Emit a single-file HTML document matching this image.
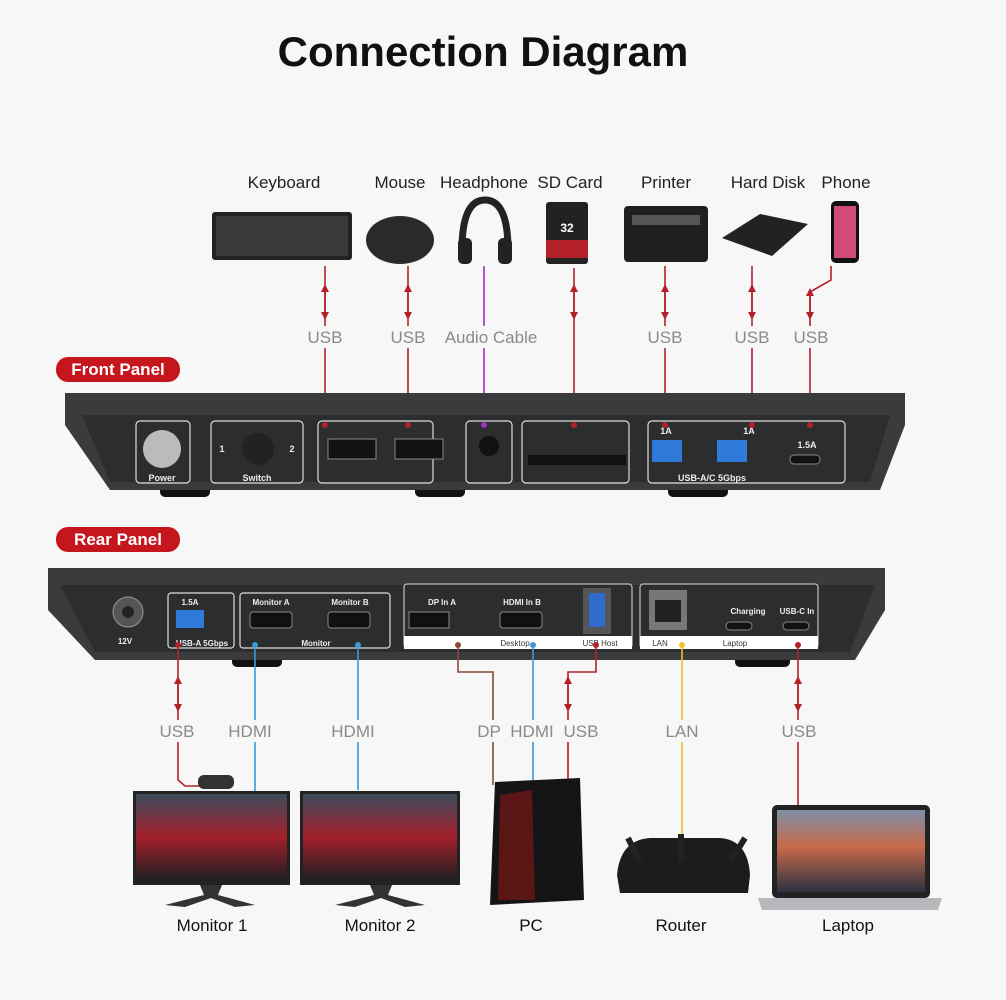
<!DOCTYPE html>
<html><head><meta charset="utf-8"><style>
html,body{margin:0;padding:0;background:#f7f7f7;}
svg{display:block}
text{font-family:"Liberation Sans",sans-serif}
</style></head><body>
<svg width="1006" height="1000" viewBox="0 0 1006 1000" xmlns="http://www.w3.org/2000/svg">
<defs>
<linearGradient id="scr" x1="0" y1="0" x2="0" y2="1"><stop offset="0" stop-color="#3b4a5a"/><stop offset="0.5" stop-color="#a3202a"/><stop offset="1" stop-color="#1e1e22"/></linearGradient>
<linearGradient id="mac" x1="0" y1="0" x2="0" y2="1"><stop offset="0" stop-color="#7f8fa8"/><stop offset="0.45" stop-color="#c86a4a"/><stop offset="1" stop-color="#2a3140"/></linearGradient>
<marker id="ar" viewBox="0 0 10 10" refX="5" refY="5" markerWidth="5" markerHeight="5" orient="auto-start-reverse"><path d="M0,0L10,5L0,10z" fill="#b3202a"/></marker>
</defs>
<rect width="1006" height="1000" fill="#f7f7f7"/>
<text x="483" y="66" font-size="42" font-weight="bold" text-anchor="middle" fill="#111">Connection Diagram</text>

<g font-size="17" fill="#222" text-anchor="middle">
<text x="284" y="188">Keyboard</text><text x="400" y="188">Mouse</text><text x="484" y="188">Headphone</text><text x="570" y="188">SD Card</text><text x="666" y="188">Printer</text><text x="768" y="188">Hard Disk</text><text x="846" y="188">Phone</text>
</g>
<rect x="212" y="212" width="140" height="48" rx="3" fill="#222"/><rect x="216" y="216" width="132" height="40" fill="#3a3a3a"/>
<ellipse cx="400" cy="240" rx="34" ry="24" fill="#2a2a2a"/>
<path d="M462,250 Q462,200 485,200 Q508,200 508,250" fill="none" stroke="#222" stroke-width="7"/><rect x="458" y="238" width="14" height="26" rx="5" fill="#222"/><rect x="498" y="238" width="14" height="26" rx="5" fill="#222"/>
<rect x="546" y="202" width="42" height="62" rx="3" fill="#222"/><rect x="546" y="240" width="42" height="18" fill="#b3202a"/><text x="567" y="232" font-size="12" fill="#fff" text-anchor="middle" font-weight="bold">32</text>
<rect x="624" y="206" width="84" height="56" rx="4" fill="#1f1f1f"/><rect x="632" y="215" width="68" height="10" fill="#555"/>
<path d="M722,238 L760,214 L808,224 L772,256z" fill="#222"/>
<rect x="831" y="201" width="28" height="62" rx="5" fill="#111"/><rect x="834" y="206" width="22" height="52" fill="#d04a7a"/>

<g stroke="#b3202a" stroke-width="1.6" fill="none">
<line x1="325" y1="266" x2="325" y2="425"/><line x1="408" y1="266" x2="408" y2="425"/><line x1="574" y1="268" x2="574" y2="425"/><line x1="665" y1="266" x2="665" y2="425"/><line x1="752" y1="266" x2="752" y2="425"/>
<polyline points="831,266 831,280 810,292 810,425"/>
<line x1="325" y1="288" x2="325" y2="316" marker-start="url(#ar)" marker-end="url(#ar)"/>
<line x1="408" y1="288" x2="408" y2="316" marker-start="url(#ar)" marker-end="url(#ar)"/>
<line x1="574" y1="288" x2="574" y2="316" marker-start="url(#ar)" marker-end="url(#ar)"/>
<line x1="665" y1="288" x2="665" y2="316" marker-start="url(#ar)" marker-end="url(#ar)"/>
<line x1="752" y1="288" x2="752" y2="316" marker-start="url(#ar)" marker-end="url(#ar)"/>
<line x1="810" y1="292" x2="810" y2="316" marker-start="url(#ar)" marker-end="url(#ar)"/>
</g>
<line x1="484" y1="266" x2="484" y2="425" stroke="#a030c0" stroke-width="1.6"/>
<g fill="#f7f7f7"><rect x="305" y="326" width="40" height="22"/><rect x="388" y="326" width="40" height="22"/><rect x="442" y="326" width="98" height="22"/><rect x="645" y="326" width="40" height="22"/><rect x="732" y="326" width="40" height="22"/><rect x="792" y="326" width="40" height="22"/></g>
<g font-size="17" fill="#8a8a8a" text-anchor="middle">
<text x="325" y="343">USB</text><text x="408" y="343">USB</text><text x="491" y="343">Audio Cable</text><text x="665" y="343">USB</text><text x="752" y="343">USB</text><text x="811" y="343">USB</text>
</g>

<rect x="56" y="357" width="124" height="25" rx="12" fill="#c4161c"/>
<text x="118" y="375" font-size="17" font-weight="bold" fill="#fff" text-anchor="middle">Front Panel</text>
<rect x="160" y="485" width="50" height="12" rx="5" fill="#111"/><rect x="415" y="485" width="50" height="12" rx="5" fill="#111"/><rect x="668" y="485" width="60" height="12" rx="5" fill="#111"/>
<path d="M65,393 L905,393 L905,425 L880,490 L110,490 L65,425z" fill="#3a3b3d"/>
<path d="M82,415 L890,415 L870,482 L110,482z" fill="#2c2d2f"/>
<g fill="none" stroke="#ddd" stroke-width="1.2">
<rect x="136" y="421" width="54" height="62" rx="4"/><rect x="211" y="421" width="92" height="62" rx="4"/><rect x="318" y="421" width="115" height="62" rx="4"/><rect x="466" y="421" width="46" height="62" rx="4"/><rect x="522" y="421" width="107" height="62" rx="4"/><rect x="648" y="421" width="197" height="62" rx="4"/>
</g>
<circle cx="162" cy="449" r="19" fill="#bbb"/><circle cx="258" cy="449" r="16" fill="#222"/>
<rect x="328" y="439" width="48" height="20" fill="#111" stroke="#888"/><rect x="395" y="439" width="48" height="20" fill="#111" stroke="#888"/>
<circle cx="489" cy="446" r="10" fill="#111"/><rect x="528" y="455" width="98" height="10" fill="#111"/>
<rect x="652" y="440" width="30" height="22" fill="#2f7ad8"/><rect x="717" y="440" width="30" height="22" fill="#2f7ad8"/><rect x="790" y="455" width="30" height="9" rx="4" fill="#111" stroke="#888"/>
<g font-size="9" fill="#eee" text-anchor="middle" font-weight="bold"><text x="162" y="481">Power</text><text x="257" y="481">Switch</text><text x="712" y="481">USB-A/C 5Gbps</text><text x="666" y="434">1A</text><text x="749" y="434">1A</text><text x="807" y="448">1.5A</text><text x="222" y="452">1</text><text x="292" y="452">2</text></g>
<g fill="#b3202a"><circle cx="325" cy="425" r="3"/><circle cx="408" cy="425" r="3"/><circle cx="574" cy="425" r="3"/><circle cx="665" cy="425" r="3"/><circle cx="752" cy="425" r="3"/><circle cx="810" cy="425" r="3"/></g><circle cx="484" cy="425" r="3" fill="#a030c0"/>

<rect x="56" y="527" width="124" height="25" rx="12" fill="#c4161c"/>
<text x="118" y="545" font-size="17" font-weight="bold" fill="#fff" text-anchor="middle">Rear Panel</text>
<rect x="232" y="655" width="50" height="12" rx="5" fill="#111"/><rect x="735" y="655" width="55" height="12" rx="5" fill="#111"/>
<path d="M48,568 L885,568 L885,610 L855,660 L95,660 L48,610z" fill="#3a3b3d"/>
<path d="M60,585 L875,585 L850,652 L95,652z" fill="#2c2d2f"/>
<circle cx="128" cy="612" r="15" fill="#555" stroke="#999"/><circle cx="128" cy="612" r="6" fill="#222"/>
<g fill="none" stroke="#ddd" stroke-width="1.2"><rect x="168" y="593" width="66" height="55" rx="3"/><rect x="240" y="593" width="150" height="55" rx="3"/></g>
<rect x="404" y="584" width="228" height="64" rx="3" fill="#2c2d2f" stroke="#ddd"/><rect x="404" y="636" width="228" height="13" fill="#fff"/>
<rect x="640" y="584" width="178" height="64" rx="3" fill="#2c2d2f" stroke="#ddd"/><rect x="640" y="636" width="178" height="13" fill="#fff"/>
<rect x="176" y="610" width="28" height="18" fill="#2f7ad8"/>
<rect x="250" y="612" width="42" height="16" rx="3" fill="#111" stroke="#888"/><rect x="328" y="612" width="42" height="16" rx="3" fill="#111" stroke="#888"/>
<rect x="409" y="612" width="40" height="16" fill="#111" stroke="#888"/><rect x="500" y="612" width="42" height="16" rx="3" fill="#111" stroke="#888"/>
<rect x="583" y="588" width="28" height="46" fill="#555"/><rect x="589" y="593" width="16" height="34" fill="#2f6ccc"/>
<rect x="649" y="590" width="38" height="40" fill="#777"/><rect x="655" y="600" width="26" height="22" fill="#222"/>
<rect x="726" y="622" width="26" height="8" rx="4" fill="#111" stroke="#888"/><rect x="783" y="622" width="26" height="8" rx="4" fill="#111" stroke="#888"/>
<g font-size="8" fill="#eee" text-anchor="middle" font-weight="bold"><text x="190" y="605">1.5A</text><text x="271" y="605">Monitor A</text><text x="350" y="605">Monitor B</text><text x="442" y="605">DP In A</text><text x="522" y="605">HDMI In B</text><text x="748" y="614">Charging</text><text x="797" y="614">USB-C In</text><text x="202" y="646">USB-A 5Gbps</text><text x="316" y="646">Monitor</text><text x="125" y="644">12V</text></g>
<g font-size="8" fill="#333" text-anchor="middle"><text x="515" y="646">Desktop</text><text x="600" y="646">USB Host</text><text x="660" y="646">LAN</text><text x="735" y="646">Laptop</text></g>

<g fill="none" stroke-width="1.6">
<polyline points="178,645 178,780 185,786 200,786" stroke="#b3202a"/>
<line x1="255" y1="645" x2="255" y2="792" stroke="#3a9ad8"/><line x1="358" y1="645" x2="358" y2="790" stroke="#3a9ad8"/>
<polyline points="458,645 458,672 493,672 493,785" stroke="#8a4a3a"/>
<line x1="533" y1="645" x2="533" y2="780" stroke="#3a9ad8"/>
<polyline points="596,645 596,672 568,672 568,780" stroke="#b3202a"/>
<line x1="682" y1="645" x2="682" y2="840" stroke="#f2c020"/>
<line x1="798" y1="645" x2="798" y2="805" stroke="#b3202a"/>
<line x1="178" y1="680" x2="178" y2="708" stroke="#b3202a" marker-start="url(#ar)" marker-end="url(#ar)"/>
<line x1="798" y1="680" x2="798" y2="708" stroke="#b3202a" marker-start="url(#ar)" marker-end="url(#ar)"/>
<line x1="568" y1="680" x2="568" y2="708" stroke="#b3202a" marker-start="url(#ar)" marker-end="url(#ar)"/>
</g>
<g fill="#3a9ad8"><circle cx="255" cy="645" r="3"/><circle cx="358" cy="645" r="3"/><circle cx="533" cy="645" r="3"/></g>
<g fill="#b3202a"><circle cx="178" cy="645" r="3"/><circle cx="596" cy="645" r="3"/><circle cx="798" cy="645" r="3"/></g>
<circle cx="458" cy="645" r="3" fill="#8a4a3a"/><circle cx="682" cy="645" r="3" fill="#f2c020"/>
<g fill="#f7f7f7"><rect x="157" y="720" width="42" height="22"/><rect x="225" y="720" width="52" height="22"/><rect x="328" y="720" width="52" height="22"/><rect x="474" y="720" width="30" height="22"/><rect x="506" y="720" width="52" height="22"/><rect x="560" y="720" width="42" height="22"/><rect x="662" y="720" width="40" height="22"/><rect x="778" y="720" width="42" height="22"/></g>
<g font-size="17" fill="#8a8a8a" text-anchor="middle">
<text x="177" y="737">USB</text><text x="250" y="737">HDMI</text><text x="353" y="737">HDMI</text><text x="489" y="737">DP</text><text x="532" y="737">HDMI</text><text x="581" y="737">USB</text><text x="682" y="737">LAN</text><text x="799" y="737">USB</text>
</g>

<rect x="198" y="775" width="36" height="14" rx="6" fill="#333"/>
<rect x="133" y="791" width="157" height="94" fill="#222"/><rect x="136" y="794" width="151" height="86" fill="url(#scr)"/>
<path d="M200,885 L222,885 L218,895 L255,905 L235,907 L211,898 L185,907 L165,905 L204,895z" fill="#333"/>
<rect x="300" y="791" width="160" height="94" fill="#222"/><rect x="303" y="794" width="154" height="86" fill="url(#scr)"/>
<path d="M370,885 L392,885 L388,895 L425,905 L405,907 L381,898 L355,907 L335,905 L374,895z" fill="#333"/>
<path d="M495,782 L580,778 L584,900 L490,905z" fill="#141416"/><path d="M500,795 L532,790 L535,900 L498,900z" fill="#5a1515"/>
<path d="M617,875 Q620,840 650,838 L720,838 Q748,840 750,875 L748,893 L620,893z" fill="#1c1c1e"/>
<line x1="628" y1="838" x2="640" y2="862" stroke="#222" stroke-width="6"/><line x1="745" y1="838" x2="730" y2="862" stroke="#222" stroke-width="6"/><line x1="681" y1="834" x2="681" y2="862" stroke="#222" stroke-width="6"/>
<rect x="772" y="805" width="158" height="93" rx="5" fill="#222"/><rect x="777" y="810" width="148" height="82" fill="url(#mac)"/>
<path d="M758,898 L942,898 L938,910 L762,910z" fill="#b8b8bc"/>
<g font-size="17" fill="#111" text-anchor="middle">
<text x="212" y="931">Monitor 1</text><text x="380" y="931">Monitor 2</text><text x="531" y="931">PC</text><text x="681" y="931">Router</text><text x="848" y="931">Laptop</text>
</g>
</svg>
</body></html>
